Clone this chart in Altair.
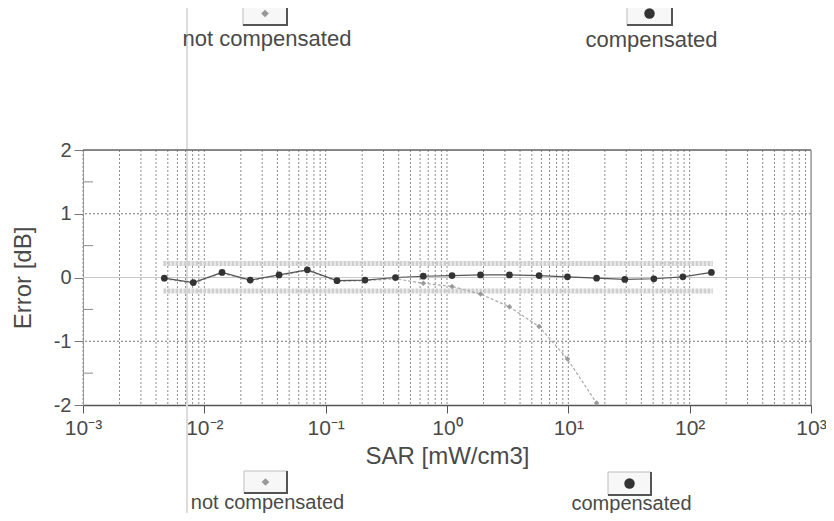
import altair as alt
import pandas as pd

# ---- data ----
sar = [0.00468, 0.00811, 0.0140, 0.0239, 0.0413, 0.0706, 0.124, 0.211, 0.376, 0.638,
       1.10, 1.89, 3.27, 5.74, 9.84, 17.1, 29.2, 50.7, 87.9, 151]
err_comp = [-0.01, -0.08, 0.08, -0.04, 0.04, 0.12, -0.05, -0.04, 0.00, 0.02,
            0.03, 0.04, 0.04, 0.03, 0.01, -0.01, -0.03, -0.02, 0.01, 0.08]
err_notcomp = [-0.02, -0.09, 0.07, -0.05, 0.03, 0.11, -0.06, -0.05, -0.02, -0.09,
               -0.14, -0.26, -0.46, -0.77, -1.28, -1.97]
band_sar = [0.0046, 155]
band_upper = 0.22
band_lower = -0.21
x_decades = [0.001, 0.01, 0.1, 1, 10, 100, 1000]
x_tick_labels = ["10⁻³", "10⁻²", "10⁻¹", "10⁰", "10¹", "10²", "10³"]
y_major = [-2, -1, 0, 1, 2]
y_minor = [-1.5, -0.5, 0.5, 1.5]
y_dotted = [-1, 1]
labels = ["not compensated", "compensated"]

W, H = 728, 255
FONT = "Liberation Sans"
TXT = "#4a4a4a"

comp = pd.DataFrame({"sar": sar, "err": err_comp})
notc = pd.DataFrame({"sar": sar[:len(err_notcomp)], "err": err_notcomp})
grid_x = pd.DataFrame({"sar": [m * d for d in x_decades[:-1] for m in range(1, 10)]})
bands = pd.DataFrame({"sar": band_sar * 2,
                      "err": [band_upper] * 2 + [band_lower] * 2,
                      "band": ["u", "u", "l", "l"]})

xs = alt.Scale(type="log", domain=[0.001, 1000])
ys = alt.Scale(domain=[-2, 2])
label_expr = "[" + ",".join("'%s'" % t for t in x_tick_labels) + "][round(log(datum.value)/LN10)+3]"
xaxis = alt.Axis(values=x_decades, labelExpr=label_expr, title="SAR [mW/cm3]",
                 grid=False, tickSize=8, tickColor="#555", domainColor="#555",
                 domainWidth=1.5, labelFont=FONT, labelFontSize=21, labelColor=TXT,
                 labelPadding=4, titleFont=FONT, titleFontSize=24, titleColor=TXT,
                 titleFontWeight="normal", titlePadding=6, labelFlush=False)
yaxis = alt.Axis(values=y_major, labelExpr="'' + datum.value", title="Error [dB]",
                 grid=False, tickSize=9, tickColor="#777", domainColor="#999",
                 labelFont=FONT, labelFontSize=20, labelColor=TXT, labelPadding=3,
                 titleFont=FONT, titleFontSize=24, titleColor=TXT,
                 titleFontWeight="normal", titlePadding=18)
X = alt.X("sar:Q", scale=xs, axis=xaxis)
Y = alt.Y("err:Q", scale=ys, axis=yaxis)

vgrid = alt.Chart(grid_x).mark_rule(color="#8c8c8c", strokeWidth=1, strokeDash=[2, 2]).encode(x=X)
hgrid = alt.Chart(pd.DataFrame({"err": y_dotted})).mark_rule(
    color="#777", strokeWidth=1, strokeDash=[2, 2]).encode(y=Y)
zero = alt.Chart(pd.DataFrame({"err": [0]})).mark_rule(color="#c8c8c8", strokeWidth=1).encode(y=Y)
topb = alt.Chart(pd.DataFrame({"err": [2]})).mark_rule(color="#666", strokeWidth=1.5).encode(y=Y)
rightb = alt.Chart(pd.DataFrame({"sar": [1000]})).mark_rule(color="#888", strokeWidth=1.2).encode(x=X)
minor = alt.Chart(pd.DataFrame({"err": y_minor})).mark_rule(color="#888", strokeWidth=1).encode(
    y=Y, x=alt.value(0), x2=alt.value(10))

band_layer = alt.Chart(bands).mark_line(color="#cfcfcf", strokeWidth=5, strokeDash=[3, 1]).encode(
    x=X, y=Y, detail="band:N")

nc_line = alt.Chart(notc).mark_line(color="#aaaaaa", strokeWidth=1.2, strokeDash=[3, 2]).encode(x=X, y=Y)
nc_pts = alt.Chart(notc).mark_point(shape="diamond", filled=True, color="#9a9a9a", size=30, opacity=1).encode(x=X, y=Y)
c_line = alt.Chart(comp).mark_line(color="#555", strokeWidth=1.2).encode(x=X, y=Y)
c_pts = alt.Chart(comp).mark_point(shape="circle", filled=True, color="#333", size=45, opacity=1).encode(x=X, y=Y)

artifact = alt.Chart(alt.Data(values=[{}])).mark_rule(color="#dcdcdc", strokeWidth=2).encode(
    x=alt.value(104), y=alt.value(-150), y2=alt.value(371))

one = alt.Data(values=[{}])


def legend_item(x0, x1, y0, y1, shape, color, size, text, ty, fs):
    cx = (x0 + x1) / 2
    cy = (y0 + y1) / 2
    box = alt.Chart(one).mark_rect(fill="#f7f7f7", stroke="#bdbdbd", strokeWidth=1).encode(
        x=alt.value(x0), x2=alt.value(x1), y=alt.value(y0), y2=alt.value(y1))
    bot = alt.Chart(one).mark_rule(color="#555", strokeWidth=2).encode(
        x=alt.value(x0), x2=alt.value(x1 + 1), y=alt.value(y1))
    rgt = alt.Chart(one).mark_rule(color="#555", strokeWidth=2).encode(
        x=alt.value(x1), y=alt.value(y0), y2=alt.value(y1))
    sym = alt.Chart(one).mark_point(shape=shape, filled=True, color=color, size=size, opacity=1).encode(
        x=alt.value(cx), y=alt.value(cy))
    lab = alt.Chart(one).mark_text(font=FONT, fontSize=fs, color=TXT, align="center",
                                   baseline="middle").encode(
        x=alt.value(cx + 2), y=alt.value(ty), text=alt.value(text))
    return [box, bot, rgt, sym, lab]


leg = []
leg += legend_item(160, 204, -148, -125, "diamond", "#999", 60, labels[0], -111, 22)
leg += legend_item(544, 589, -148, -125, "circle", "#333", 110, labels[1], -110, 22)
leg += legend_item(161, 204, 321, 343, "diamond", "#999", 60, labels[0], 353, 20)
leg += legend_item(525, 568, 322, 345, "circle", "#333", 110, labels[1], 354, 20)

chart = alt.layer(
    artifact, vgrid, hgrid, zero, minor, band_layer, nc_line, nc_pts, c_line, c_pts,
    topb, rightb, *leg
).properties(
    width=W, height=H,
    autosize=alt.AutoSizeParams(type="none"),
    padding={"left": 75, "top": 142, "right": 15, "bottom": 108},
).configure_view(stroke=None).configure(background="white")

chart.save("out.html", embed_options={"renderer": "svg", "actions": False})
